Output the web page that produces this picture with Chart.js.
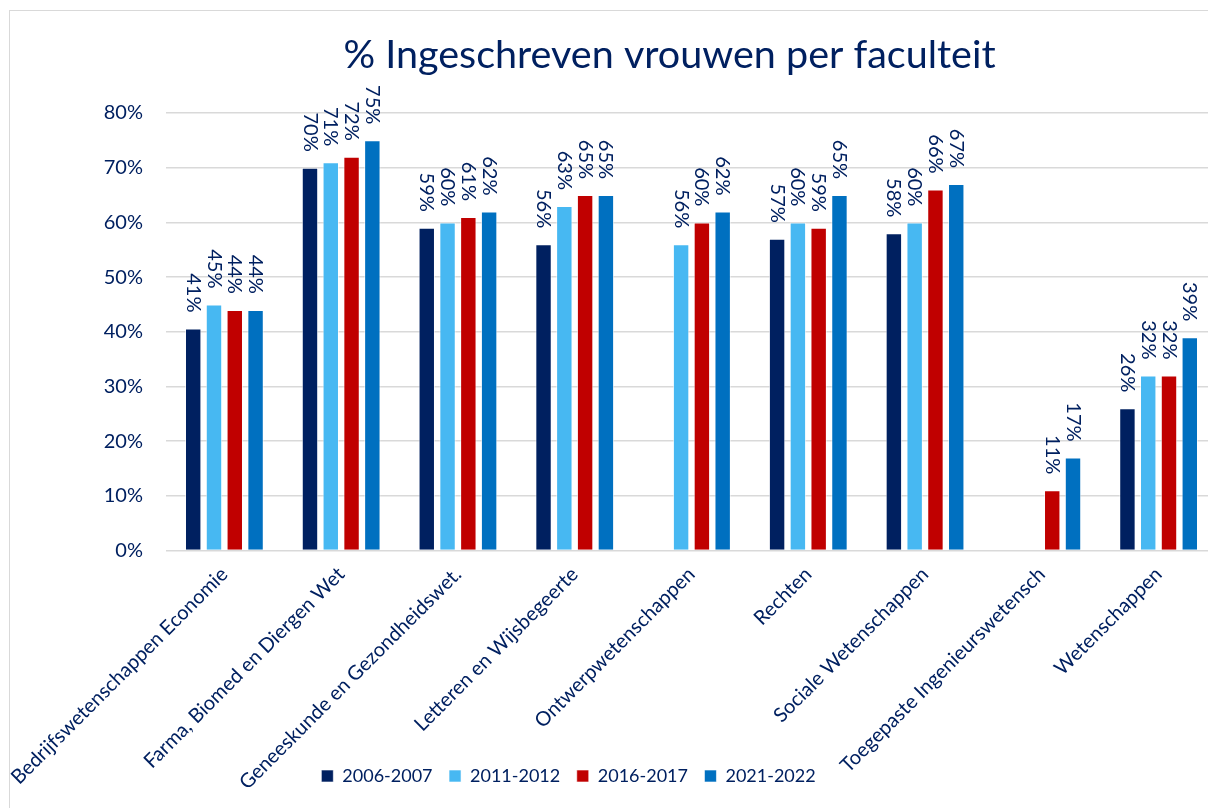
<!DOCTYPE html>
<html lang="nl">
<head>
  <meta charset="UTF-8" />
  <title>% Ingeschreven vrouwen per faculteit</title>
  <script src="https://cdn.jsdelivr.net/npm/chart.js"></script>
  <style>
    html, body { margin: 0; padding: 0; background: #fff; overflow: hidden; width: 1208px; height: 808px; }
    #frame { position: absolute; left: 9px; top: 10px; width: 1400px; height: 900px; border: 1px solid #d9d9d9; }
    #wrap { position: absolute; left: 0; top: 0; width: 1340px; height: 808px; }
  </style>
</head>
<body>
  <div id="frame"></div>
  <div id="wrap"><canvas id="chart" width="1340" height="808"></canvas></div>

  <script>
    const faculties = [
      'Bedrijfswetenschappen Economie',
      'Farma, Biomed en Diergen Wet',
      'Geneeskunde en Gezondheidswet.',
      'Letteren en Wijsbegeerte',
      'Ontwerpwetenschappen',
      'Rechten',
      'Sociale Wetenschappen',
      'Toegepaste Ingenieurswetensch',
      'Wetenschappen'
    ];
    const years = ['2006-2007', '2011-2012', '2016-2017', '2021-2022'];

    const pct2006 = [40.6, 70, 59, 56, null, 57, 58, null, 26];
    const pct2011 = [45, 71, 60, 63, 56, 60, 60, null, 32];
    const pct2016 = [44, 72, 61, 65, 60, 59, 66, 11, 32];
    const pct2021 = [44, 75, 62, 65, 62, 65, 67, 17, 39];

    const yTicks = [0, 10, 20, 30, 40, 50, 60, 70, 80];

    const colors = ['#002060', '#47b8f2', '#c00000', '#0070c0'];
    const textColor = '#002060';
    const font = 'Lato';

    // rotated value labels above each bar
    const barLabels = {
      id: 'barLabels',
      afterDatasetsDraw(chart) {
        const ctx = chart.ctx;
        ctx.save();
        ctx.font = '20px ' + font;
        ctx.fillStyle = textColor;
        ctx.textAlign = 'right';
        ctx.textBaseline = 'middle';
        chart.data.datasets.forEach((ds, i) => {
          const meta = chart.getDatasetMeta(i);
          meta.data.forEach((bar, j) => {
            const v = ds.data[j];
            if (v == null) return;
            ctx.save();
            ctx.translate(bar.x, bar.y - 16);
            ctx.rotate(Math.PI / 2);
            ctx.fillText(Math.round(v) + '%', 0, 0);
            ctx.restore();
          });
        });
        ctx.restore();
      }
    };

    // title and legend are not centred on the same line in the original
    const boxShift = {
      id: 'boxShift',
      afterLayout(chart) {
        const lg = chart.legend;
        if (lg) { lg.left -= 40; lg.right -= 40; }
        const t = chart.titleBlock;
        if (t) { t.left += 61; t.right += 61; }
      }
    };

    const datasetsList = [pct2006, pct2011, pct2016, pct2021].map((arr, i) => ({
      label: years[i],
      data: arr,
      backgroundColor: colors[i],
      borderColor: 'rgba(255,255,255,0.6)',
      borderWidth: 1,
      categoryPercentage: 0.712,
      barPercentage: 0.79
    }));

    new Chart(document.getElementById('chart'), {
      type: 'bar',
      data: { labels: faculties, datasets: datasetsList },
      plugins: [barLabels, boxShift],
      options: {
        responsive: false,
        animation: false,
        layout: { padding: { left: 0, right: 123, top: 0, bottom: 13 } },
        plugins: {
          title: {
            display: true,
            text: '% Ingeschreven vrouwen per faculteit',
            color: textColor,
            font: { family: font, size: 39.5, weight: 'normal', lineHeight: 1.2 },
            padding: { top: 32, bottom: 33.6 }
          },
          legend: {
            position: 'bottom',
            labels: {
              color: textColor,
              font: { family: font, size: 18 },
              boxWidth: 12,
              boxHeight: 12,
              padding: 16.5
            }
          },
          tooltip: { enabled: false }
        },
        scales: {
          x: {
            grid: { display: false },
            border: { display: false },
            ticks: {
              color: textColor,
              font: { family: font, size: 20 },
              minRotation: 45,
              maxRotation: 45,
              autoSkip: false,
              padding: 4
            },
            afterFit(scale) {
              scale.height = 200;
              // long labels run past the axis box, as in the original
              scale._computeLabelArea = () => undefined;
            }
          },
          y: {
            min: 0,
            max: 80,
            afterBuildTicks(scale) { scale.ticks = yTicks.map(v => ({ value: v })); },
            grid: { color: '#d9d9d9', lineWidth: 1.5, drawTicks: false },
            border: { display: false },
            ticks: {
              color: textColor,
              font: { family: font, size: 20 },
              padding: 23,
              callback: v => v + '%'
            },
            afterFit(scale) { scale.width = 166; }
          }
        }
      }
    });
  </script>
</body>
</html>
